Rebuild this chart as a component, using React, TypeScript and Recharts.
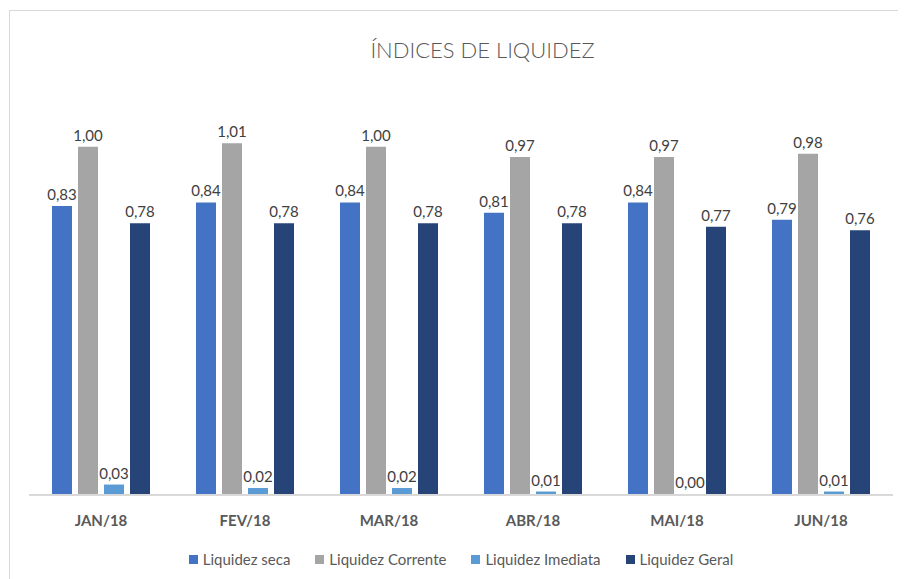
import { BarChart, Bar, XAxis, YAxis, Legend } from 'recharts';

const meses = ['JAN/18', 'FEV/18', 'MAR/18', 'ABR/18', 'MAI/18', 'JUN/18'];
const liquidezSeca = [0.83, 0.84, 0.84, 0.81, 0.84, 0.79];
const liquidezCorrente = [1.0, 1.01, 1.0, 0.97, 0.97, 0.98];
const liquidezImediata = [0.03, 0.02, 0.02, 0.01, 0.0, 0.01];
const liquidezGeral = [0.78, 0.78, 0.78, 0.78, 0.77, 0.76];

const series = [
  { key: 'seca', name: 'Liquidez seca', color: '#4472C4' },
  { key: 'corrente', name: 'Liquidez Corrente', color: '#A5A5A5' },
  { key: 'imediata', name: 'Liquidez Imediata', color: '#5B9BD5' },
  { key: 'geral', name: 'Liquidez Geral', color: '#264478' },
];

const data = meses.map((m, i) => ({
  mes: m,
  seca: liquidezSeca[i],
  corrente: liquidezCorrente[i],
  imediata: liquidezImediata[i],
  geral: liquidezGeral[i],
}));

const fmt = (v: any) => Number(v).toFixed(2).replace('.', ',');

const font = 'Lato, "Open Sans", sans-serif';

const renderLabel = (p: any) => (
  <text
    x={p.x + p.width / 2}
    y={p.y - 6}
    textAnchor="middle"
    fill="#404040"
    fontSize={15}
    fontFamily={font}
  >
    {fmt(p.value)}
  </text>
);

function MyLegend() {
  return (
    <div style={{ display: 'flex', justifyContent: 'center', height: 24, alignItems: 'center', fontFamily: font, fontSize: 15, color: '#595959' }}>
      {series.map((s, i) => (
        <div key={s.key} style={{ display: 'flex', alignItems: 'center', marginLeft: i === 0 ? 0 : 25 }}>
          <span style={{ width: 9, height: 9, background: s.color, display: 'inline-block', marginRight: 5 }} />
          <span>{s.name}</span>
        </div>
      ))}
    </div>
  );
}

export default function App() {
  return (
    <div style={{ paddingTop: 2, paddingLeft: 1 }}>
      <div style={{ position: 'relative', border: '1px solid #d9d9d9', width: 920, height: 600 }}>
        <div style={{ position: 'absolute', top: 25, left: 0, width: 945, textAlign: 'center', fontFamily: font, fontSize: 22, fontWeight: 300, color: '#595959' }}>
          ÍNDICES DE LIQUIDEZ
        </div>
        <BarChart
          width={900}
          height={580}
          data={data}
          margin={{ top: 66, right: 17, left: 19, bottom: 20 }}
          barCategoryGap={23}
          barGap={6}
        >
          <XAxis
            dataKey="mes"
            height={52}
            tickLine={false}
            axisLine={{ stroke: '#d9d9d9', strokeWidth: 2 }}
            tick={{ fill: '#595959', fontSize: 15, fontWeight: 'bold', fontFamily: font }}
            tickMargin={14}
          />
          <YAxis hide domain={[0, 1.2]} />
          <Legend verticalAlign="bottom" content={<MyLegend />} />
          {series.map((s) => (
            <Bar
              key={s.key}
              dataKey={s.key}
              name={s.name}
              fill={s.color}
              barSize={20}
              minPointSize={1}
              isAnimationActive={false}
              label={renderLabel}
            />
          ))}
        </BarChart>
      </div>
    </div>
  );
}
